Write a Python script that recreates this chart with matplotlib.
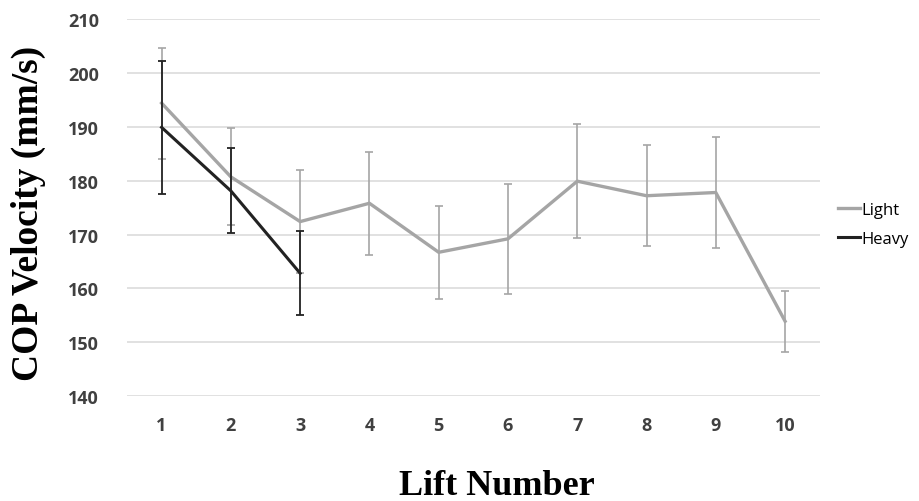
import numpy as np
from matplotlib import pyplot as plt
from matplotlib.lines import Line2D

# lift number vs centre-of-pressure velocity
lifts = np.arange(1, 11)
light = [194.4, 180.7, 172.4, 175.8, 166.7, 169.2, 179.9, 177.2, 177.8, 153.9]
light_err = [10.3, 9.0, 9.5, 9.6, 8.6, 10.2, 10.6, 9.4, 10.3, 5.7]
heavy_lifts = [1, 2, 3]
heavy = [189.9, 178.1, 162.8]
heavy_err = [12.3, 7.9, 7.8]
yticks = [140, 150, 160, 170, 180, 190, 200, 210]

fig = plt.figure(figsize=(9.2, 5.02), dpi=100)
ax = fig.add_axes([0.138, 0.209, 0.753, 0.751])

ax.errorbar(lifts, light, yerr=light_err, color='#A5A5A5', lw=2.4,
            elinewidth=1.2, capsize=3, capthick=1.2, zorder=3)
ax.errorbar(heavy_lifts, heavy, yerr=heavy_err, color='#222222', lw=2.2,
            elinewidth=1.3, capsize=3, capthick=1.3, zorder=4)

ax.set_xlim(0.5, 10.5)
ax.set_ylim(140, 210)
ax.set_xticks(lifts)
ax.set_yticks(yticks)
ax.grid(axis='y', color='#D9D9D9', lw=1.1, zorder=0)
ax.set_axisbelow(True)
for s in ax.spines.values():
    s.set_visible(False)
ax.tick_params(length=0, pad=14, labelsize=13, labelcolor='#404040')
for lab in ax.get_xticklabels() + ax.get_yticklabels():
    lab.set_fontfamily('Open Sans')
    lab.set_fontweight('bold')
ax.tick_params(axis='y', pad=20)

fig.text(0.540, 0.03, 'Lift Number', ha='center', va='center',
         family='Liberation Serif', weight='bold', fontsize=26)
fig.text(0.031, 0.575, 'COP Velocity (mm/s)', ha='center', va='center',
         rotation=90, family='Liberation Serif', weight='bold', fontsize=27)

handles = [Line2D([], [], color='#A5A5A5', lw=2.4),
           Line2D([], [], color='#222222', lw=2.2)]
ax.legend(handles, ['Light', 'Heavy'], loc='center left',
          bbox_to_anchor=(1.005, 0.455), frameon=False,
          handlelength=1.3, handletextpad=0.1, labelspacing=0.75,
          prop={'family': 'Open Sans', 'size': 12})

fig.savefig('out.png', dpi=100)
